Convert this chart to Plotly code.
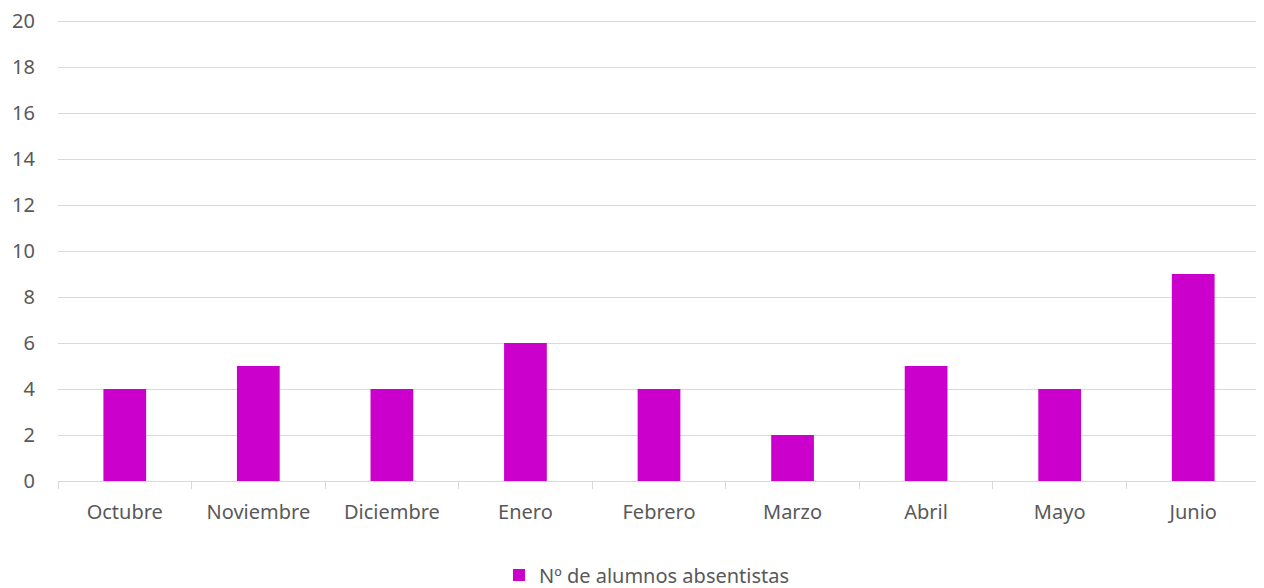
import plotly.graph_objects as go

# ── Data ──────────────────────────────────────────────────────────────────────
meses = ["Octubre", "Noviembre", "Diciembre", "Enero", "Febrero",
         "Marzo", "Abril", "Mayo", "Junio"]
absentistas = [4, 5, 4, 6, 4, 2, 5, 4, 9]
y_ticks = list(range(0, 21, 2))

# ── Style ─────────────────────────────────────────────────────────────────────
_MAGENTA = "#CC00CC"
_GRID = "#D9D9D9"
_TEXT = "#595959"
_FONT = dict(family="'Noto Sans', 'Open Sans', sans-serif", size=20, color=_TEXT)

fig = go.Figure()

fig.add_trace(go.Bar(
    name="Nº de alumnos absentistas",
    x=meses,
    y=absentistas,
    marker_color=_MAGENTA,
    marker_line_width=0,
))

# page body adds an 8px offset, so margins are trimmed to match
fig.update_layout(
    width=1256,
    height=588,
    font=_FONT,
    plot_bgcolor="white",
    paper_bgcolor="white",
    margin=dict(t=12, b=115, l=50, r=4, autoexpand=False),
    bargap=0.68,
    showlegend=True,
    legend=dict(
        orientation="h",
        x=0.49, xanchor="center",
        y=-0.204, yanchor="middle",
        font=dict(size=20, color=_TEXT),
    ),
    xaxis=dict(
        type="category",
        automargin=False,
        showline=True,
        linecolor=_GRID,
        linewidth=1,
        ticks="outside",
        tickson="boundaries",
        ticklen=7,
        tickcolor=_GRID,
        showgrid=False,
        ticklabelstandoff=13,
        ticklabeloverflow="allow",
    ),
    yaxis=dict(
        range=[0, 20.05],
        tickvals=y_ticks,
        automargin=False,
        showgrid=True,
        gridcolor=_GRID,
        gridwidth=1,
        zeroline=False,
        showline=False,
        ticklabelstandoff=22,
        ticklabeloverflow="allow",
    ),
)

fig.write_html("out.html")
